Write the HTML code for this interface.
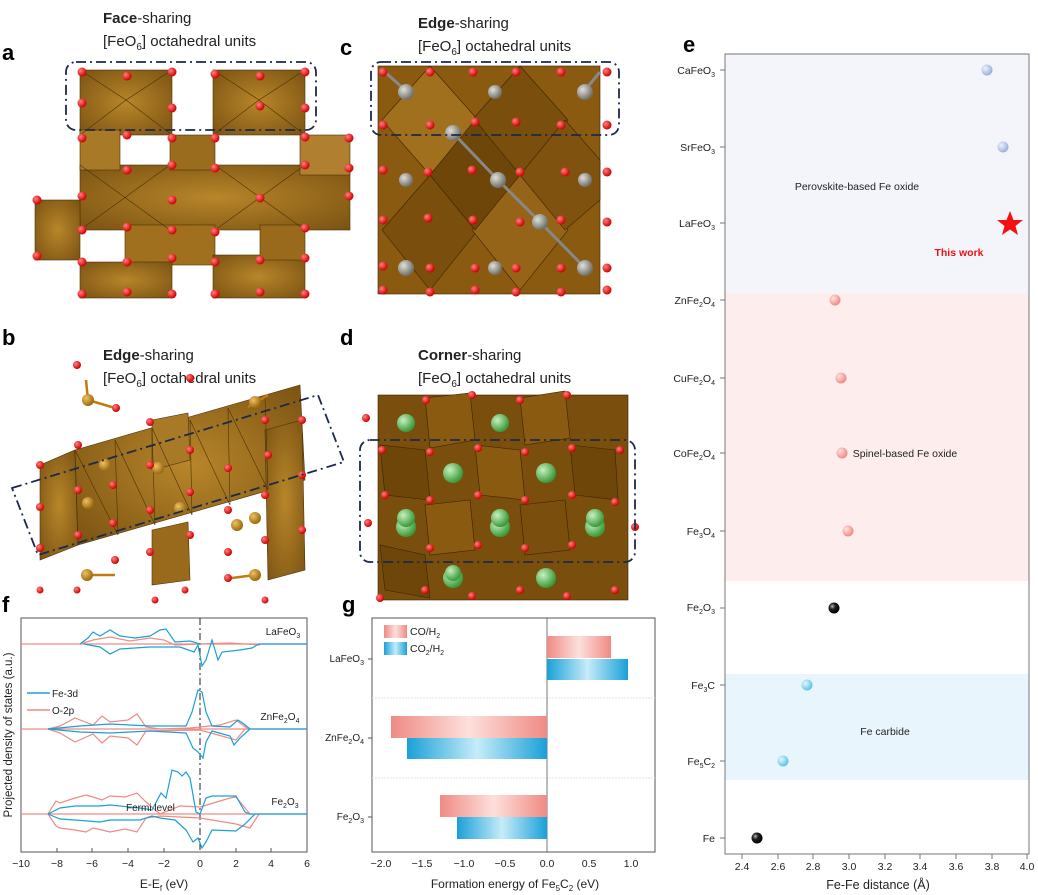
<!DOCTYPE html>
<html><head><meta charset="utf-8"><style>
html,body{margin:0;padding:0;background:#fff;}
svg{display:block;font-family:"Liberation Sans",Arial,sans-serif;}
</style></head><body>
<svg width="1038" height="895" viewBox="0 0 1038 895" xmlns="http://www.w3.org/2000/svg">
<defs>
<radialGradient id="br" cx="50%" cy="50%" r="70%"><stop offset="0" stop-color="#b8862a"/><stop offset="1" stop-color="#7a5212"/></radialGradient>
<radialGradient id="rd" cx="35%" cy="35%" r="65%"><stop offset="0" stop-color="#ff8080"/><stop offset="1" stop-color="#d00000"/></radialGradient>
<radialGradient id="gy" cx="35%" cy="35%" r="65%"><stop offset="0" stop-color="#e0e0da"/><stop offset="1" stop-color="#707068"/></radialGradient>
<radialGradient id="gn" cx="35%" cy="35%" r="65%"><stop offset="0" stop-color="#c8f0c0"/><stop offset="1" stop-color="#3a9a3a"/></radialGradient>
<radialGradient id="au" cx="35%" cy="35%" r="65%"><stop offset="0" stop-color="#f0c060"/><stop offset="1" stop-color="#9a6a10"/></radialGradient>
<radialGradient id="sb" cx="35%" cy="35%" r="65%"><stop offset="0" stop-color="#eef2fc"/><stop offset="1" stop-color="#9cb0dc"/></radialGradient>
<radialGradient id="sp" cx="35%" cy="35%" r="65%"><stop offset="0" stop-color="#ffe4e0"/><stop offset="1" stop-color="#f08a84"/></radialGradient>
<radialGradient id="sc" cx="35%" cy="35%" r="65%"><stop offset="0" stop-color="#e6f8ff"/><stop offset="1" stop-color="#5cc4ec"/></radialGradient>
<radialGradient id="sk" cx="35%" cy="35%" r="65%"><stop offset="0" stop-color="#bbb"/><stop offset="0.4" stop-color="#222"/><stop offset="1" stop-color="#000"/></radialGradient>
<linearGradient id="gr" x1="0" x2="1"><stop offset="0" stop-color="#f08a84"/><stop offset="0.5" stop-color="#fde0dc"/><stop offset="1" stop-color="#f08a84"/></linearGradient>
<linearGradient id="gb" x1="0" x2="1"><stop offset="0" stop-color="#1aa0d8"/><stop offset="0.5" stop-color="#c6ecf8"/><stop offset="1" stop-color="#1aa0d8"/></linearGradient>
</defs>

<g font-weight="bold" font-size="22" fill="#000">
<text x="2" y="60">a</text><text x="340" y="55">c</text><text x="2" y="345">b</text><text x="340" y="345">d</text>
<text x="2" y="612">f</text><text x="342" y="612">g</text><text x="683" y="52">e</text>
</g>
<g font-size="15" fill="#222">
<text x="103" y="23"><tspan font-weight="bold">Face</tspan>-sharing</text>
<text x="103" y="46">[FeO<tspan font-size="10" dy="4">6</tspan><tspan dy="-4">] octahedral units</tspan></text>
<text x="418" y="28"><tspan font-weight="bold">Edge</tspan>-sharing</text>
<text x="418" y="51">[FeO<tspan font-size="10" dy="4">6</tspan><tspan dy="-4">] octahedral units</tspan></text>
<text x="103" y="360"><tspan font-weight="bold">Edge</tspan>-sharing</text>
<text x="103" y="383">[FeO<tspan font-size="10" dy="4">6</tspan><tspan dy="-4">] octahedral units</tspan></text>
<text x="418" y="360"><tspan font-weight="bold">Corner</tspan>-sharing</text>
<text x="418" y="383">[FeO<tspan font-size="10" dy="4">6</tspan><tspan dy="-4">] octahedral units</tspan></text>
</g>

<!-- Panel a -->
<g stroke="#4a3208" stroke-width="0.6">
<rect x="80" y="70" width="92" height="65" fill="url(#br)"/>
<rect x="213" y="70" width="92" height="65" fill="url(#br)"/>
<rect x="80" y="165" width="270" height="65" fill="url(#br)"/>
<rect x="80" y="130" width="40" height="40" fill="#a87a28"/>
<rect x="170" y="135" width="45" height="35" fill="#9a6c1e"/>
<rect x="300" y="135" width="50" height="40" fill="#b08030"/>
<rect x="35" y="200" width="45" height="60" fill="url(#br)"/>
<rect x="125" y="225" width="90" height="40" fill="#a0701e"/>
<rect x="80" y="262" width="92" height="36" fill="url(#br)"/>
<rect x="213" y="255" width="92" height="43" fill="url(#br)"/>
<rect x="260" y="225" width="45" height="35" fill="#9a6a1c"/>
<path d="M80 70 L126 100 L172 70 M80 135 L126 100 L172 135 M213 70 L259 100 L305 70 M213 135 L259 100 L305 135 M80 165 L170 230 M170 165 L80 230 M215 165 L305 230 M305 165 L215 230" fill="none"/>
</g>
<g fill="url(#rd)">
<circle cx="82" cy="72" r="4.5"/><circle cx="127" cy="76" r="4.5"/><circle cx="172" cy="72" r="4.5"/>
<circle cx="215" cy="74" r="4.5"/><circle cx="260" cy="76" r="4.5"/><circle cx="305" cy="72" r="4.5"/>
<circle cx="82" cy="103" r="4.5"/><circle cx="172" cy="108" r="4.5"/><circle cx="260" cy="106" r="4.5"/><circle cx="305" cy="108" r="4.5"/>
<circle cx="82" cy="138" r="4.5"/><circle cx="127" cy="135" r="4.5"/><circle cx="172" cy="138" r="4.5"/><circle cx="215" cy="138" r="4.5"/><circle cx="305" cy="137" r="4.5"/><circle cx="349" cy="138" r="4.5"/>
<circle cx="127" cy="170" r="4.5"/><circle cx="172" cy="165" r="4.5"/><circle cx="215" cy="168" r="4.5"/><circle cx="305" cy="165" r="4.5"/><circle cx="349" cy="168" r="4.5"/>
<circle cx="37" cy="200" r="4.5"/><circle cx="82" cy="196" r="4.5"/><circle cx="172" cy="200" r="4.5"/><circle cx="260" cy="198" r="4.5"/><circle cx="349" cy="196" r="4.5"/>
<circle cx="37" cy="256" r="4.5"/><circle cx="82" cy="230" r="4.5"/><circle cx="127" cy="227" r="4.5"/><circle cx="172" cy="230" r="4.5"/><circle cx="215" cy="232" r="4.5"/><circle cx="305" cy="228" r="4.5"/>
<circle cx="82" cy="262" r="4.5"/><circle cx="127" cy="262" r="4.5"/><circle cx="172" cy="258" r="4.5"/><circle cx="215" cy="262" r="4.5"/><circle cx="260" cy="260" r="4.5"/><circle cx="305" cy="258" r="4.5"/>
<circle cx="82" cy="294" r="4.5"/><circle cx="127" cy="292" r="4.5"/><circle cx="172" cy="294" r="4.5"/><circle cx="215" cy="294" r="4.5"/><circle cx="260" cy="292" r="4.5"/><circle cx="305" cy="294" r="4.5"/>
</g>
<rect x="66" y="62" width="250" height="68" rx="10" fill="none" stroke="#1a2a4a" stroke-width="1.8" stroke-dasharray="10,4,2,4"/>

<!-- Panel c -->
<g stroke="#3a2404" stroke-width="0.6">
<rect x="378" y="66" width="222" height="228" fill="#8a5a10"/>
<polygon points="430,66 478,120 430,175 382,120" fill="#a0701e"/>
<polygon points="520,66 568,120 520,175 472,120" fill="#7a4e0c"/>
<polygon points="430,175 478,230 430,290 382,230" fill="#7a4e0c"/>
<polygon points="520,175 568,230 520,290 472,230" fill="#956418"/>
<polygon points="475,120 520,175 475,230 430,175" fill="#6e460a"/>
<polygon points="565,120 600,160 600,200 565,230 520,175" fill="#805210"/>
</g>
<g stroke="#888" stroke-width="3">
<line x1="405" y1="90" x2="385" y2="72"/><line x1="453" y1="133" x2="498" y2="180"/><line x1="498" y1="180" x2="540" y2="222"/><line x1="540" y1="222" x2="585" y2="268"/><line x1="585" y1="90" x2="600" y2="72"/>
</g>
<g fill="url(#gy)">
<circle cx="406" cy="92" r="8"/><circle cx="495" cy="92" r="7"/><circle cx="585" cy="92" r="8"/>
<circle cx="453" cy="133" r="8"/><circle cx="406" cy="180" r="7"/><circle cx="498" cy="180" r="8"/><circle cx="585" cy="180" r="7"/>
<circle cx="540" cy="222" r="8"/><circle cx="406" cy="268" r="8"/><circle cx="495" cy="268" r="7"/><circle cx="585" cy="268" r="8"/>
</g>
<g fill="url(#rd)">
<circle cx="383" cy="72" r="4.5"/><circle cx="430" cy="72" r="4.5"/><circle cx="473" cy="72" r="4.5"/><circle cx="516" cy="72" r="4.5"/><circle cx="561" cy="72" r="4.5"/><circle cx="607" cy="72" r="4.5"/>
<circle cx="383" cy="125" r="4.5"/><circle cx="430" cy="125" r="4.5"/><circle cx="475" cy="122" r="4.5"/><circle cx="516" cy="122" r="4.5"/><circle cx="561" cy="125" r="4.5"/><circle cx="607" cy="125" r="4.5"/>
<circle cx="383" cy="170" r="4.5"/><circle cx="428" cy="172" r="4.5"/><circle cx="472" cy="170" r="4.5"/><circle cx="520" cy="172" r="4.5"/><circle cx="565" cy="172" r="4.5"/><circle cx="607" cy="172" r="4.5"/>
<circle cx="383" cy="220" r="4.5"/><circle cx="428" cy="218" r="4.5"/><circle cx="473" cy="220" r="4.5"/><circle cx="520" cy="222" r="4.5"/><circle cx="561" cy="220" r="4.5"/><circle cx="607" cy="222" r="4.5"/>
<circle cx="383" cy="266" r="4.5"/><circle cx="430" cy="268" r="4.5"/><circle cx="475" cy="268" r="4.5"/><circle cx="516" cy="268" r="4.5"/><circle cx="561" cy="268" r="4.5"/><circle cx="607" cy="268" r="4.5"/>
<circle cx="383" cy="290" r="4.5"/><circle cx="430" cy="292" r="4.5"/><circle cx="475" cy="290" r="4.5"/><circle cx="516" cy="292" r="4.5"/><circle cx="561" cy="292" r="4.5"/><circle cx="607" cy="290" r="4.5"/>
</g>
<rect x="371" y="62" width="248" height="73" rx="10" fill="none" stroke="#1a2a4a" stroke-width="1.8" stroke-dasharray="10,4,2,4"/>

<!-- Panel b -->
<g stroke="#4a3208" stroke-width="0.6">
<polygon points="40,465 75,450 78,545 40,560" fill="url(#br)"/>
<polygon points="75,450 300,385 305,480 78,545" fill="url(#br)"/>
<polygon points="152,420 188,413 190,460 152,470" fill="#a87a28"/>
<polygon points="265,430 302,420 305,570 268,580" fill="url(#br)"/>
<polygon points="152,530 188,522 190,580 152,585" fill="#9a6a1c"/>
<path d="M75,450 L78,545 M115,440 L118,535 M152,428 L155,525 M190,420 L192,515 M228,408 L230,505 M265,398 L268,490 M75,450 L118,535 M115,440 L155,525 M152,428 L192,515 M190,420 L230,505 M228,408 L268,490" fill="none"/>
</g>
<g stroke="#c07a10" stroke-width="2.5">
<line x1="88" y1="400" x2="86" y2="380"/><line x1="88" y1="400" x2="115" y2="408"/><line x1="248" y1="407" x2="268" y2="395"/>
<line x1="87" y1="575" x2="115" y2="575"/><line x1="255" y1="575" x2="232" y2="578"/>
</g>
<g fill="url(#au)">
<circle cx="88" cy="400" r="6"/><circle cx="105" cy="465" r="6"/><circle cx="158" cy="468" r="6"/><circle cx="88" cy="503" r="6"/>
<circle cx="180" cy="508" r="6"/><circle cx="255" cy="402" r="6"/><circle cx="255" cy="518" r="6"/><circle cx="237" cy="525" r="6"/><circle cx="87" cy="575" r="6"/><circle cx="255" cy="575" r="6"/>
</g>
<g fill="url(#rd)">
<circle cx="77" cy="365" r="4"/><circle cx="116" cy="408" r="4"/><circle cx="190" cy="378" r="4"/><circle cx="150" cy="422" r="4"/><circle cx="265" cy="420" r="4"/><circle cx="268" cy="455" r="4"/>
<circle cx="40" cy="465" r="4"/><circle cx="78" cy="445" r="4"/><circle cx="113" cy="485" r="4"/><circle cx="150" cy="465" r="4"/><circle cx="190" cy="450" r="4"/><circle cx="228" cy="468" r="4"/><circle cx="302" cy="420" r="4"/>
<circle cx="40" cy="507" r="4"/><circle cx="78" cy="490" r="4"/><circle cx="113" cy="523" r="4"/><circle cx="150" cy="510" r="4"/><circle cx="190" cy="492" r="4"/><circle cx="228" cy="510" r="4"/><circle cx="265" cy="495" r="4"/><circle cx="302" cy="475" r="4"/>
<circle cx="40" cy="548" r="4"/><circle cx="78" cy="535" r="4"/><circle cx="115" cy="560" r="4"/><circle cx="150" cy="552" r="4"/><circle cx="190" cy="535" r="4"/><circle cx="228" cy="552" r="4"/><circle cx="265" cy="540" r="4"/><circle cx="302" cy="530" r="4"/>
<circle cx="40" cy="590" r="3.5"/><circle cx="77" cy="590" r="3.5"/><circle cx="155" cy="600" r="3.5"/><circle cx="185" cy="590" r="3.5"/><circle cx="228" cy="578" r="4"/><circle cx="265" cy="600" r="3.5"/>
</g>
<polygon points="12,488 318,395 344,462 38,555" fill="none" stroke="#1a2a4a" stroke-width="1.8" stroke-dasharray="10,4,2,4" stroke-linejoin="round"/>

<!-- Panel d -->
<g stroke="#3a2404" stroke-width="0.6">
<rect x="378" y="395" width="250" height="205" fill="#7a4e0c"/>
<polygon points="425,398 470,393 475,440 430,448" fill="#8a5a10"/>
<polygon points="520,398 565,391 570,438 525,445" fill="#8a5a10"/>
<polygon points="380,445 425,450 430,500 385,495" fill="#6e460a"/>
<polygon points="475,445 520,450 525,500 480,495" fill="#8a5a10"/>
<polygon points="570,445 615,450 618,500 575,495" fill="#6e460a"/>
<polygon points="425,505 470,500 475,550 430,555" fill="#8a5a10"/>
<polygon points="520,505 565,500 570,550 525,555" fill="#7a4e0c"/>
<polygon points="380,545 425,555 430,598 385,590" fill="#6e460a"/>
</g>
<g fill="url(#gn)">
<circle cx="406" cy="423" r="9"/><circle cx="500" cy="423" r="9"/>
<circle cx="453" cy="473" r="10"/><circle cx="546" cy="473" r="10"/>
<circle cx="406" cy="527" r="10"/><circle cx="500" cy="527" r="10"/><circle cx="595" cy="527" r="10"/>
<circle cx="453" cy="578" r="10"/><circle cx="546" cy="578" r="10"/>
<circle cx="406" cy="518" r="9"/><circle cx="500" cy="518" r="9"/><circle cx="595" cy="518" r="9"/>
<circle cx="453" cy="573" r="8"/>
</g>
<g fill="url(#rd)">
<circle cx="366" cy="418" r="4"/><circle cx="426" cy="400" r="4"/><circle cx="472" cy="395" r="4"/><circle cx="520" cy="400" r="4"/><circle cx="567" cy="395" r="4"/>
<circle cx="382" cy="450" r="4"/><circle cx="430" cy="452" r="4"/><circle cx="478" cy="448" r="4"/><circle cx="525" cy="452" r="4"/><circle cx="572" cy="448" r="4"/><circle cx="620" cy="450" r="4"/>
<circle cx="385" cy="495" r="4"/><circle cx="430" cy="500" r="4"/><circle cx="478" cy="495" r="4"/><circle cx="525" cy="500" r="4"/><circle cx="572" cy="495" r="4"/><circle cx="615" cy="502" r="4"/>
<circle cx="368" cy="523" r="4"/><circle cx="430" cy="548" r="4"/><circle cx="478" cy="545" r="4"/><circle cx="525" cy="548" r="4"/><circle cx="572" cy="545" r="4"/><circle cx="635" cy="527" r="4"/>
<circle cx="380" cy="598" r="4"/><circle cx="425" cy="590" r="4"/><circle cx="472" cy="596" r="4"/><circle cx="520" cy="590" r="4"/><circle cx="567" cy="596" r="4"/><circle cx="615" cy="590" r="4"/>
</g>
<rect x="360" y="440" width="275" height="122" rx="10" fill="none" stroke="#1a2a4a" stroke-width="1.8" stroke-dasharray="10,4,2,4"/>

<!-- Panel f -->
<rect x="21" y="618" width="286" height="234" fill="none" stroke="#555" stroke-width="1"/>
<line x1="200" y1="618" x2="200" y2="852" stroke="#222" stroke-width="1" stroke-dasharray="7,3,2,3"/>
<g fill="none" stroke-width="1.2">
<line x1="21" y1="644" x2="307" y2="644" stroke="#f08a84"/>
<polyline stroke="#f08a84" points="80,644 93,640 110,637 130,641 150,638 164,640 175,645 200,644 230,643 260,645"/>
<polyline stroke="#1aa0d8" points="80,644 88,638 93,632 100,636 110,630 120,636 135,638 150,636 160,630 166,629 175,642 190,641 200,644"/>
<polyline stroke="#1aa0d8" points="84,644 100,647 110,654 120,649 150,647 180,647 194,652 198,645 202,666 206,660 212,640 218,660 222,652 240,650 252,648 259,644 307,644"/>
<line x1="21" y1="729" x2="307" y2="729" stroke="#f08a84"/>
<polyline stroke="#f08a84" points="48,729 60,726 75,718 93,725 102,716 110,722 128,720 137,714 146,727 160,729 190,728 220,725 236,720 248,729"/>
<polyline stroke="#f08a84" points="48,729 60,733 75,742 93,734 102,743 110,736 128,738 137,745 146,731 200,730 236,740 245,729"/>
<polyline stroke="#1aa0d8" points="48,729 80,726 110,724 150,726 186,726 192,712 198,690 202,692 206,712 212,726 230,727 238,720 244,724 250,729 307,729"/>
<polyline stroke="#1aa0d8" points="48,729 80,732 110,733 150,731 186,733 193,748 198,752 203,758 206,742 212,731 230,736 234,745 240,738 250,729"/>
<line x1="21" y1="814" x2="307" y2="814" stroke="#f08a84"/>
<polyline stroke="#f08a84" points="48,814 56,801 60,803 75,798 86,795 93,797 102,800 110,796 125,797 137,793 146,802 160,814 180,806 200,807 230,798 236,797 250,814"/>
<polyline stroke="#f08a84" points="48,814 56,826 60,828 75,830 86,832 93,828 102,830 110,832 125,829 137,832 146,818 160,816 200,818 236,824 250,828 259,814"/>
<polyline stroke="#1aa0d8" points="48,814 60,808 75,806 100,806 110,805 140,808 152,810 161,793 166,798 172,770 178,772 182,776 186,772 190,778 196,812 200,814 206,798 212,796 236,796 245,812 250,814 307,814"/>
<polyline stroke="#1aa0d8" points="48,814 60,819 75,820 100,822 110,820 140,820 152,816 160,818 175,820 186,830 193,842 198,838 202,848 206,842 212,830 236,831 245,824 255,814"/>
</g>
<g font-size="10" fill="#222">
<text x="283" y="635" text-anchor="middle">LaFeO<tspan font-size="7" dy="3">3</tspan></text>
<text x="280" y="720" text-anchor="middle">ZnFe<tspan font-size="7" dy="3">2</tspan><tspan dy="-3">O</tspan><tspan font-size="7" dy="3">4</tspan></text>
<text x="285" y="805" text-anchor="middle">Fe<tspan font-size="7" dy="3">2</tspan><tspan dy="-3">O</tspan><tspan font-size="7" dy="3">3</tspan></text>
<text x="126" y="811">Fermi level</text>
<text x="52" y="697">Fe-3d</text><text x="52" y="714">O-2p</text>
</g>
<line x1="27" y1="693" x2="50" y2="693" stroke="#1aa0d8" stroke-width="1.5"/>
<line x1="27" y1="710" x2="50" y2="710" stroke="#f08a84" stroke-width="1.5"/>
<text transform="translate(12,735) rotate(-90)" font-size="11.5" fill="#222" text-anchor="middle">Projected density of states (a.u.)</text>
<g font-size="10.5" fill="#222" text-anchor="middle">
<text x="21" y="867">−10</text><text x="57" y="867">−8</text><text x="92" y="867">−6</text><text x="128" y="867">−4</text><text x="164" y="867">−2</text><text x="200" y="867">0</text><text x="236" y="867">2</text><text x="271" y="867">4</text><text x="307" y="867">6</text>
<text x="164" y="888" font-size="12">E-E<tspan font-size="8" dy="3">f</tspan><tspan dy="-3"> (eV)</tspan></text>
</g>
<g stroke="#555"><line x1="57" y1="852" x2="57" y2="848"/><line x1="92" y1="852" x2="92" y2="848"/><line x1="128" y1="852" x2="128" y2="848"/><line x1="164" y1="852" x2="164" y2="848"/><line x1="236" y1="852" x2="236" y2="848"/><line x1="271" y1="852" x2="271" y2="848"/></g>

<!-- Panel g -->
<rect x="372" y="618" width="283" height="234" fill="none" stroke="#555" stroke-width="1"/>
<line x1="372" y1="698" x2="655" y2="698" stroke="#e4e4e4" stroke-dasharray="2,1"/>
<line x1="372" y1="778" x2="655" y2="778" stroke="#e4e4e4" stroke-dasharray="2,1"/>
<line x1="547" y1="618" x2="547" y2="852" stroke="#555" stroke-width="0.8"/>
<rect x="547" y="636" width="64" height="22" fill="url(#gr)"/>
<rect x="547" y="659" width="81" height="21" fill="url(#gb)"/>
<rect x="391" y="716" width="156" height="22" fill="url(#gr)"/>
<rect x="407" y="738" width="140" height="21" fill="url(#gb)"/>
<rect x="440" y="795" width="107" height="22" fill="url(#gr)"/>
<rect x="457" y="817" width="90" height="22" fill="url(#gb)"/>
<rect x="384" y="625" width="23" height="13" fill="url(#gr)"/>
<rect x="384" y="642" width="23" height="13" fill="url(#gb)"/>
<g font-size="10.5" fill="#222">
<text x="410" y="635">CO/H<tspan font-size="7" dy="3">2</tspan></text>
<text x="410" y="652">CO<tspan font-size="7" dy="3">2</tspan><tspan dy="-3">/H</tspan><tspan font-size="7" dy="3">2</tspan></text>
</g>
<g font-size="10" fill="#222" text-anchor="end">
<text x="364" y="662">LaFeO<tspan font-size="7" dy="3">3</tspan></text>
<text x="364" y="741">ZnFe<tspan font-size="7" dy="3">2</tspan><tspan dy="-3">O</tspan><tspan font-size="7" dy="3">4</tspan></text>
<text x="364" y="820">Fe<tspan font-size="7" dy="3">2</tspan><tspan dy="-3">O</tspan><tspan font-size="7" dy="3">3</tspan></text>
</g>
<g stroke="#555"><line x1="368" y1="659" x2="372" y2="659"/><line x1="368" y1="738" x2="372" y2="738"/><line x1="368" y1="817" x2="372" y2="817"/></g>
<g font-size="10.5" fill="#222" text-anchor="middle">
<text x="381" y="867">−2.0</text><text x="422" y="867">−1.5</text><text x="464" y="867">−1.0</text><text x="505" y="867">−0.5</text><text x="547" y="867">0.0</text><text x="589" y="867">0.5</text><text x="631" y="867">1.0</text>
<text x="515" y="888" font-size="12">Formation energy of  Fe<tspan font-size="8" dy="3">5</tspan><tspan dy="-3">C</tspan><tspan font-size="8" dy="3">2</tspan><tspan dy="-3"> (eV)</tspan></text>
</g>

<!-- Panel e -->
<rect x="725" y="54" width="304" height="239" fill="#f4f5fb"/>
<rect x="725" y="293" width="304" height="288" fill="#fdeeed"/>
<rect x="725" y="674" width="304" height="106" fill="#e8f5fc"/>
<rect x="725" y="54" width="304" height="800" fill="none" stroke="#777" stroke-width="1"/>
<g font-size="10.5" fill="#222" text-anchor="end">
<text x="715" y="74">CaFeO<tspan font-size="7" dy="3">3</tspan></text>
<text x="715" y="151">SrFeO<tspan font-size="7" dy="3">3</tspan></text>
<text x="715" y="227">LaFeO<tspan font-size="7" dy="3">3</tspan></text>
<text x="715" y="304">ZnFe<tspan font-size="7" dy="3">2</tspan><tspan dy="-3">O</tspan><tspan font-size="7" dy="3">4</tspan></text>
<text x="715" y="382">CuFe<tspan font-size="7" dy="3">2</tspan><tspan dy="-3">O</tspan><tspan font-size="7" dy="3">4</tspan></text>
<text x="715" y="457">CoFe<tspan font-size="7" dy="3">2</tspan><tspan dy="-3">O</tspan><tspan font-size="7" dy="3">4</tspan></text>
<text x="715" y="535">Fe<tspan font-size="7" dy="3">3</tspan><tspan dy="-3">O</tspan><tspan font-size="7" dy="3">4</tspan></text>
<text x="715" y="611">Fe<tspan font-size="7" dy="3">2</tspan><tspan dy="-3">O</tspan><tspan font-size="7" dy="3">3</tspan></text>
<text x="715" y="689">Fe<tspan font-size="7" dy="3">3</tspan><tspan dy="-3">C</tspan></text>
<text x="715" y="765">Fe<tspan font-size="7" dy="3">5</tspan><tspan dy="-3">C</tspan><tspan font-size="7" dy="3">2</tspan></text>
<text x="715" y="842">Fe</text>
</g>
<g stroke="#777">
<line x1="720" y1="70" x2="725" y2="70"/><line x1="720" y1="147" x2="725" y2="147"/><line x1="720" y1="223" x2="725" y2="223"/><line x1="720" y1="300" x2="725" y2="300"/><line x1="720" y1="378" x2="725" y2="378"/><line x1="720" y1="453" x2="725" y2="453"/><line x1="720" y1="531" x2="725" y2="531"/><line x1="720" y1="608" x2="725" y2="608"/><line x1="720" y1="685" x2="725" y2="685"/><line x1="720" y1="761" x2="725" y2="761"/><line x1="720" y1="838" x2="725" y2="838"/>
<line x1="742" y1="854" x2="742" y2="859"/><line x1="778" y1="854" x2="778" y2="859"/><line x1="813" y1="854" x2="813" y2="859"/><line x1="849" y1="854" x2="849" y2="859"/><line x1="885" y1="854" x2="885" y2="859"/><line x1="920" y1="854" x2="920" y2="859"/><line x1="956" y1="854" x2="956" y2="859"/><line x1="992" y1="854" x2="992" y2="859"/><line x1="1027" y1="854" x2="1027" y2="859"/>
</g>
<g font-size="10.5" fill="#222" text-anchor="middle">
<text x="742" y="870">2.4</text><text x="778" y="870">2.6</text><text x="813" y="870">2.8</text><text x="849" y="870">3.0</text><text x="885" y="870">3.2</text><text x="920" y="870">3.4</text><text x="956" y="870">3.6</text><text x="992" y="870">3.8</text><text x="1027" y="870">4.0</text>
<text x="878" y="889" font-size="12.5">Fe-Fe distance (Å)</text>
<text x="857" y="190" font-size="10.5">Perovskite-based Fe oxide</text>
<text x="905" y="457" font-size="10.5">Spinel-based Fe oxide</text>
<text x="885" y="735" font-size="10.5">Fe carbide</text>
<text x="959" y="256" font-size="10.5" font-weight="bold" fill="#f01010">This work</text>
</g>
<circle cx="987" cy="70" r="5.5" fill="url(#sb)"/>
<circle cx="1003" cy="147" r="5.5" fill="url(#sb)"/>
<polygon points="1010,211 1013.5,220 1023,220 1015.5,226 1018,235 1010,229.5 1002,235 1004.5,226 997,220 1006.5,220" fill="#f41010"/>
<circle cx="835" cy="300" r="5.5" fill="url(#sp)"/>
<circle cx="841" cy="378" r="5.5" fill="url(#sp)"/>
<circle cx="842" cy="453" r="5.5" fill="url(#sp)"/>
<circle cx="848" cy="531" r="5.5" fill="url(#sp)"/>
<circle cx="834" cy="608" r="5.5" fill="url(#sk)"/>
<circle cx="807" cy="685" r="5.5" fill="url(#sc)"/>
<circle cx="783" cy="761" r="5.5" fill="url(#sc)"/>
<circle cx="757" cy="838" r="5.5" fill="url(#sk)"/>
</svg>
</body></html>
